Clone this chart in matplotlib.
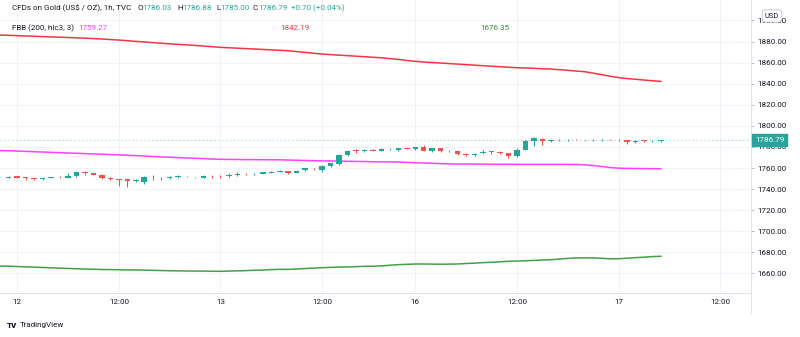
import matplotlib
matplotlib.use('Agg')
import matplotlib.pyplot as plt
import numpy as np

plt.rcParams['font.family'] = ['Roboto', 'DejaVu Sans']

W, H = 800, 337
#-----------------------------------------------
# hourly candles, TVC:GOLD (bar 0 = 11th 23:00)
opens = [1751.0, 1752.0, 1751.2, 1750.5, 1749.8, 1750.6, 1751.5, 1751.0, 1752.2, 1756.3,
         1755.0, 1753.5, 1751.0, 1749.4, 1749.2, 1747.8, 1747.2, 1751.0, 1750.8, 1750.7,
         1751.3, 1752.6, 1751.2, 1751.0, 1752.6, 1752.6, 1752.2, 1753.2, 1754.6, 1754.2,
         1754.5, 1755.5, 1756.4, 1757.3, 1755.6, 1758.0, 1759.5, 1758.4, 1762.2, 1764.3,
         1772.5, 1776.7, 1776.1, 1777.6, 1776.4, 1778.1, 1777.2, 1778.7, 1778.2, 1780.2,
         1776.3, 1778.8, 1776.2, 1776.3, 1773.8, 1772.5, 1774.4, 1775.5, 1775.7, 1774.4,
         1771.2, 1777.6, 1785.8, 1787.7, 1786.0, 1786.2, 1786.5, 1787.0, 1786.4, 1786.5,
         1786.6, 1787.0, 1786.9, 1786.5, 1784.3, 1786.4, 1785.4, 1786.03]
highs = [1752.3, 1752.3, 1751.6, 1750.8, 1750.8, 1751.8, 1752.3, 1755.0, 1757.0, 1757.0,
         1755.7, 1753.9, 1751.6, 1750.0, 1749.8, 1749.4, 1752.0, 1753.0, 1751.5, 1752.5,
         1753.3, 1752.9, 1751.8, 1753.3, 1753.5, 1753.0, 1755.0, 1756.2, 1755.2, 1755.2,
         1756.5, 1757.0, 1758.6, 1757.6, 1758.0, 1760.4, 1760.3, 1762.8, 1765.2, 1773.5,
         1777.2, 1778.4, 1778.0, 1778.0, 1778.6, 1779.0, 1779.3, 1779.3, 1780.2, 1782.0,
         1779.2, 1779.2, 1776.8, 1776.6, 1774.1, 1774.4, 1777.5, 1776.2, 1776.0, 1774.7,
         1779.4, 1786.8, 1789.6, 1788.2, 1786.9, 1787.4, 1787.3, 1787.5, 1787.0, 1787.2,
         1787.2, 1787.6, 1787.2, 1787.0, 1786.4, 1786.7, 1786.3, 1786.88]
lows = [1750.5, 1750.6, 1748.8, 1748.5, 1748.8, 1750.2, 1750.3, 1750.5, 1751.2, 1753.8,
        1753.0, 1750.0, 1748.6, 1743.4, 1742.0, 1746.8, 1745.3, 1748.8, 1749.0, 1750.0,
        1750.6, 1751.6, 1750.9, 1750.6, 1751.0, 1750.5, 1751.3, 1752.5, 1753.5, 1753.8,
        1754.0, 1755.0, 1756.0, 1754.6, 1755.0, 1757.6, 1758.4, 1756.0, 1761.2, 1763.3,
        1771.5, 1774.7, 1775.5, 1775.8, 1775.9, 1777.6, 1776.6, 1777.8, 1777.6, 1776.2,
        1775.5, 1775.4, 1775.0, 1772.8, 1771.6, 1771.5, 1773.8, 1773.8, 1773.5, 1769.8,
        1770.5, 1777.0, 1780.7, 1782.0, 1784.5, 1785.2, 1785.8, 1786.2, 1785.5, 1785.8,
        1786.0, 1786.2, 1786.0, 1782.7, 1784.0, 1784.6, 1785.0, 1785.00]
closes = [1751.9, 1751.0, 1750.5, 1749.8, 1750.4, 1751.4, 1751.1, 1752.0, 1756.4, 1754.9,
          1753.6, 1750.6, 1749.4, 1749.0, 1747.3, 1748.3, 1751.3, 1750.6, 1750.3, 1751.3,
          1752.6, 1752.0, 1751.5, 1752.9, 1752.0, 1752.0, 1753.0, 1754.8, 1754.2, 1754.6,
          1755.8, 1756.7, 1757.6, 1755.4, 1757.4, 1759.8, 1759.0, 1762.2, 1764.6, 1772.5,
          1776.3, 1776.3, 1777.2, 1776.3, 1778.2, 1778.5, 1778.8, 1778.3, 1779.8, 1776.6,
          1778.8, 1776.0, 1776.5, 1773.4, 1772.2, 1773.8, 1775.7, 1775.8, 1774.1, 1771.2,
          1777.6, 1786.1, 1788.3, 1785.2, 1786.4, 1786.6, 1786.8, 1786.6, 1786.7, 1786.8,
          1786.9, 1786.6, 1786.5, 1784.3, 1786.1, 1785.2, 1785.8, 1786.79]

# FBB (200, hlc3, 3) values, bar -1 .. 77
fbb_upper = [1886.2, 1885.9, 1885.6, 1885.3, 1885.0, 1884.7, 1884.4, 1884.1, 1883.8, 1883.5,
             1883.2, 1882.8, 1882.4, 1881.9, 1881.4, 1880.8, 1880.2, 1879.6, 1879.0, 1878.4,
             1877.8, 1877.3, 1876.8, 1876.3, 1875.7, 1875.1, 1874.5, 1874.1, 1873.7, 1873.3,
             1872.9, 1872.5, 1872.1, 1871.7, 1871.3, 1870.5, 1869.7, 1868.9, 1868.1, 1867.6,
             1867.1, 1866.6, 1866.1, 1865.6, 1865.1, 1864.6, 1863.8, 1863.0, 1862.1, 1861.2,
             1860.6, 1860.1, 1859.6, 1859.1, 1858.6, 1858.1, 1857.6, 1857.1, 1856.6, 1856.1,
             1855.6, 1855.2, 1854.9, 1854.6, 1854.2, 1853.9, 1853.3, 1852.7, 1852.0, 1851.4,
             1850.0, 1848.6, 1847.1, 1845.8, 1844.9, 1844.2, 1843.5, 1842.8, 1842.19]
fbb_basis = [1776.6, 1776.4, 1776.1, 1775.8, 1775.5, 1775.2, 1774.9, 1774.6, 1774.3, 1774.0,
             1773.7, 1773.4, 1773.1, 1772.8, 1772.5, 1772.1, 1771.8, 1771.4, 1771.0, 1770.6,
             1770.2, 1769.9, 1769.6, 1769.3, 1769.0, 1768.6, 1768.3, 1768.2, 1768.1, 1768.0,
             1768.0, 1767.9, 1767.9, 1767.8, 1767.6, 1767.4, 1767.2, 1767.0, 1766.8, 1766.7,
             1766.6, 1766.4, 1766.3, 1766.2, 1766.0, 1765.9, 1765.8, 1765.7, 1765.4, 1765.1,
             1764.8, 1764.5, 1764.2, 1764.0, 1763.8, 1763.8, 1763.7, 1763.7, 1763.6, 1763.6,
             1763.6, 1763.5, 1763.5, 1763.5, 1763.5, 1763.5, 1763.5, 1763.5, 1763.4, 1763.1,
             1762.4, 1761.5, 1760.5, 1759.9, 1759.7, 1759.6, 1759.5, 1759.4, 1759.27]
fbb_lower = [1667.0, 1666.9, 1666.6, 1666.3, 1666.0, 1665.7, 1665.4, 1665.1, 1664.8, 1664.5,
             1664.2, 1664.0, 1663.8, 1663.7, 1663.6, 1663.4, 1663.4, 1663.2, 1663.0, 1662.8,
             1662.6, 1662.5, 1662.4, 1662.3, 1662.3, 1662.1, 1662.1, 1662.3, 1662.5, 1662.7,
             1663.1, 1663.3, 1663.7, 1663.9, 1663.9, 1664.3, 1664.7, 1665.1, 1665.5, 1665.8,
             1666.1, 1666.2, 1666.5, 1666.8, 1666.9, 1667.2, 1667.8, 1668.4, 1668.7, 1669.0,
             1669.0, 1668.9, 1668.8, 1668.9, 1669.0, 1669.5, 1669.8, 1670.3, 1670.6, 1671.1,
             1671.6, 1671.8, 1672.1, 1672.4, 1672.8, 1673.1, 1673.7, 1674.3, 1674.8, 1674.8,
             1674.8, 1674.4, 1673.9, 1674.0, 1674.5, 1675.0, 1675.5, 1676.0, 1676.35]

time_ticks = [1, 13, 25, 37, 48, 60, 72, 84]
time_labels = ['12', '12:00', '13', '12:00', '16', '12:00', '17', '12:00']
price_ticks = list(range(1660, 1901, 20))
last_price = 1786.79
#-----------------------------------------------
UP = '#26a69a'
DOWN = '#ef5350'
TXT = '#131722'
GRID = '#f0f3fa'
FS = 5.8

fig = plt.figure(figsize=(W / 100, H / 100), dpi=100)
ax = fig.add_axes([0, 44 / H, 751 / W, 293 / H])

o = np.array(opens); c = np.array(closes)
hi = np.array(highs); lo = np.array(lows)
xi = np.arange(len(o))
col = np.where(c >= o, UP, DOWN)

ax.vlines(xi, lo, hi, colors=col, lw=0.75, zorder=3)
hgt = np.where(np.abs(c - o) < 0.25, 0.25 * np.sign(c - o + 1e-9), c - o)
ax.bar(xi, hgt, bottom=o, width=0.65, color=col, lw=0, zorder=4)

xl = np.arange(-1, len(fbb_upper) - 1)
ax.plot(xl, fbb_upper, color='#f23645', lw=1.1, zorder=2)
ax.plot(xl, fbb_basis, color='#ff40ff', lw=1.1, zorder=2)
ax.plot(xl, fbb_lower, color='#43a047', lw=1.1, zorder=2)

ax.axhline(last_price, color=UP, lw=0.7, ls=(0, (1.5, 2.5)), alpha=0.45, zorder=1)

ax.set_xlim(-1.03, 87.64)
ax.set_ylim(1641.5, 1919.4)

ax.set_xticks(time_ticks)
ax.set_xticklabels(time_labels)
ax.set_yticks(price_ticks)
ax.set_yticklabels(['%.2f' % p for p in price_ticks])
ax.yaxis.tick_right()
ax.tick_params(axis='x', length=0, pad=4.5, labelsize=FS, labelcolor=TXT)
ax.tick_params(axis='y', length=2.5, width=0.6, color='#b2b5be', pad=2, labelsize=FS, labelcolor=TXT)
ax.grid(True, color=GRID, lw=0.7, zorder=0)
ax.set_axisbelow(True)
for s in ['top', 'left']:
    ax.spines[s].set_visible(False)
ax.spines['right'].set_color('#e0e3eb')
ax.spines['bottom'].set_color('#e0e3eb')
ax.spines['right'].set_linewidth(0.7)
ax.spines['bottom'].set_linewidth(0.7)

# separator of the price scale down to the time scale
fig.add_artist(plt.Line2D([751 / W, 751 / W], [1 - 313 / H, 44 / H], color='#e0e3eb', lw=0.7))

# last price label
ax.annotate('%.2f' % last_price, xy=(1.0, last_price), xycoords=('axes fraction', 'data'),
            xytext=(3, 0), textcoords='offset points', ha='left', va='center',
            fontsize=FS, color='white', zorder=10, annotation_clip=False,
            bbox=dict(boxstyle='square,pad=0.35', fc=UP, ec=UP))

# USD box
fig.text(772 / W, 1 - 16 / H, 'USD', fontsize=5.4, color=TXT, ha='center', va='center',
         bbox=dict(boxstyle='round,pad=0.35,rounding_size=0.4', fc='white', ec='#b2b5be', lw=0.5))

#-----------------------------------------------
rend = fig.canvas.get_renderer()


def seq_text(x0, y, pieces):
    x = x0
    for s, cc, gap in pieces:
        t = fig.text(x / W, 1 - y / H, s, color=cc, fontsize=FS, ha='left', va='center')
        x += t.get_window_extent(renderer=rend).width + gap


seq_text(12, 8, [('CFDs on Gold (US$ / OZ), 1h, TVC', TXT, 0)])
seq_text(137, 8, [('O', TXT, 0), ('1786.03', UP, 0)])
seq_text(177, 8, [('H', TXT, 0), ('1786.88', UP, 0)])
seq_text(216, 8, [('L', TXT, 0), ('1785.00', UP, 0)])
seq_text(253, 8, [('C', TXT, 0), ('1786.79', UP, 0)])
seq_text(291, 8, [('+0.70 (+0.04%)', UP, 0)])
seq_text(12, 28, [('FBB (200, hlc3, 3)', TXT, 4), ('1759.27', '#ff40ff', 0)])
fig.text(280 / W, 1 - 28 / H, '1842.19', color='#f23645', fontsize=FS, ha='left', va='center')
fig.text(480 / W, 1 - 28 / H, '1676.35', color='#388e3c', fontsize=FS, ha='left', va='center')

# logo
fig.text(7 / W, 1 - 325 / H, 'TV', fontsize=5.8, fontweight='heavy', color=TXT, ha='left', va='center')
fig.text(20 / W, 1 - 325 / H, 'TradingView', fontsize=5.8, color=TXT, ha='left', va='center')

plt.savefig('out.png', dpi=100)
